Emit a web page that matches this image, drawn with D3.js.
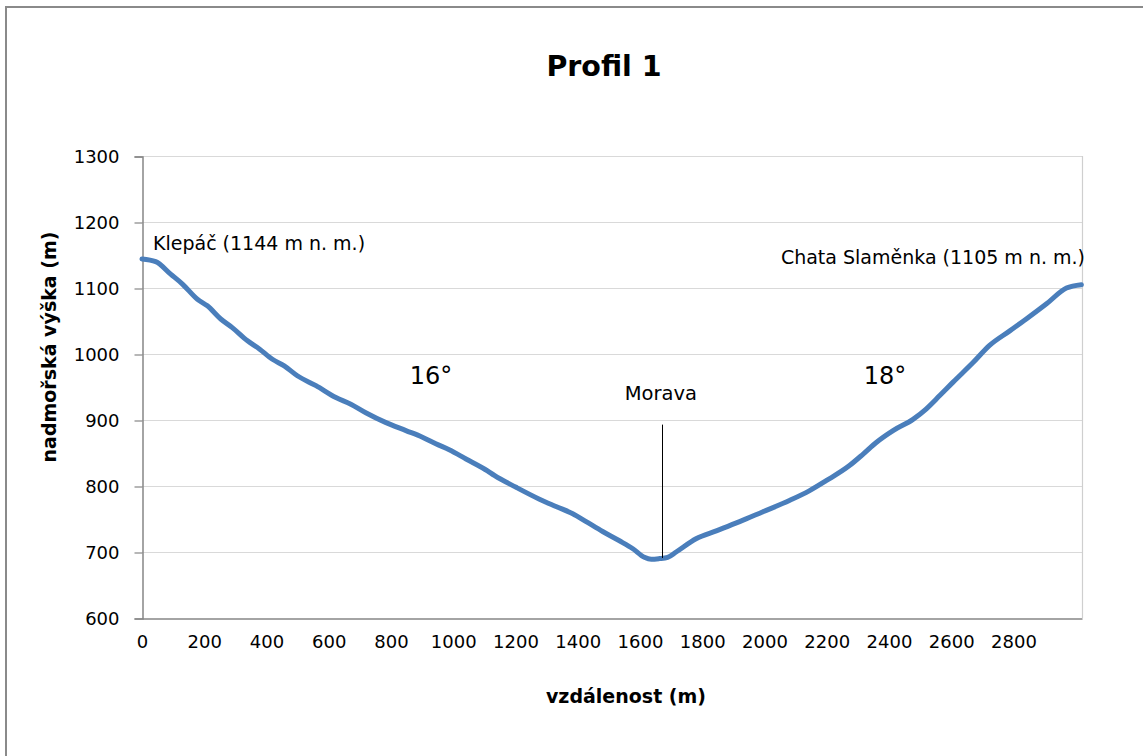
<!DOCTYPE html>
<html>
<head>
<meta charset="utf-8">
<script src="https://cdn.jsdelivr.net/npm/d3@7"></script>
<style>
  html, body { margin: 0; padding: 0; background: #fff; }
  svg { display: block; font-family: "DejaVu Sans", sans-serif; }
</style>
</head>
<body>
<div id="chart"></div>
<script>
// profile data (distance m, elevation m n. m.)
var distances = [0, 44, 92, 130, 178, 210, 253, 290, 339, 376, 419, 457, 499, 559, 623, 671, 719, 784, 848, 901,
  944, 987, 1041, 1110, 1132, 1202, 1277, 1330, 1384, 1427, 1480, 1534, 1577, 1614, 1636, 1662, 1689, 1716, 1780, 1845,
  1920, 1995, 2080, 2145, 2198, 2273, 2316, 2359, 2413, 2477, 2520, 2563, 2605, 2670, 2723, 2788, 2841, 2906, 2970, 3018];
var elevations = [1144, 1140, 1121, 1106, 1083, 1073, 1053, 1040, 1020, 1008, 992, 982, 967, 952, 934, 924, 911, 896, 884, 874,
  864, 855, 841, 823, 816, 798, 780, 769, 758, 746, 731, 717, 705, 692, 689, 690, 692, 700, 720, 732,
  746, 761, 778, 793, 808, 831, 848, 866, 884, 901, 917, 937, 957, 987, 1013, 1035, 1053, 1076, 1100, 1105];
var xTicks = [0, 200, 400, 600, 800, 1000, 1200, 1400, 1600, 1800, 2000, 2200, 2400, 2600, 2800];
var yTicks = [600, 700, 800, 900, 1000, 1100, 1200, 1300];
var moravaDist = 1670, moravaTop = 893;

var width = 1143, height = 756;
var plotLeft = 142, plotRight = 1082, plotTop = 156, plotBottom = 618;

var svg = d3.select("#chart").append("svg")
    .attr("width", width)
    .attr("height", height);

// outer chart border
svg.append("rect")
    .attr("x", 6).attr("y", 7)
    .attr("width", 1200).attr("height", 800)
    .attr("fill", "none")
    .attr("stroke", "#8a8a8a")
    .attr("stroke-width", 2);

var x = d3.scaleLinear().domain([0, 3020]).range([plotLeft, plotRight]);
var y = d3.scaleLinear().domain([600, 1300]).range([plotBottom, plotTop]);

// gridlines
svg.append("g")
    .selectAll("line")
    .data(yTicks.filter(function(d) { return d > 600; }))
    .enter().append("line")
    .attr("x1", plotLeft).attr("x2", plotRight)
    .attr("y1", function(d) { return y(d) + 0.5; })
    .attr("y2", function(d) { return y(d) + 0.5; })
    .attr("stroke", "#d9d9d9")
    .attr("stroke-width", 1.2);

svg.append("line")
    .attr("x1", plotRight + 0.5).attr("x2", plotRight + 0.5)
    .attr("y1", plotTop).attr("y2", plotBottom)
    .attr("stroke", "#cfcfcf")
    .attr("stroke-width", 1.2);

// y axis
var yAxis = svg.append("g")
    .attr("transform", "translate(" + (plotLeft + 0.5) + ",0.5)")
    .call(d3.axisLeft(y).tickValues(yTicks).tickSize(8).tickPadding(15).tickFormat(d3.format("d")));
yAxis.select(".domain").attr("stroke", "#868686").attr("stroke-width", 1.5);
yAxis.selectAll(".tick line").attr("stroke", "#868686").attr("stroke-width", 1.2);
yAxis.selectAll("text").attr("font-size", 18).attr("fill", "#000").attr("font-family", "DejaVu Sans, sans-serif");

// x axis
var xAxis = svg.append("g")
    .attr("transform", "translate(0," + (plotBottom + 0.5) + ")")
    .call(d3.axisBottom(x).tickValues(xTicks).tickSize(0).tickPadding(17).tickFormat(d3.format("d")));
xAxis.select(".domain").attr("stroke", "#868686").attr("stroke-width", 1.5);
xAxis.selectAll("text").attr("font-size", 18).attr("fill", "#000").attr("font-family", "DejaVu Sans, sans-serif");

// profile line
var line = d3.line()
    .x(function(d, i) { return x(distances[i]); })
    .y(function(d) { return y(d); })
    .curve(d3.curveMonotoneX);

svg.append("path")
    .datum(elevations)
    .attr("d", line)
    .attr("fill", "none")
    .attr("stroke", "#4a7ebb")
    .attr("stroke-width", 5)
    .attr("stroke-linejoin", "round")
    .attr("stroke-linecap", "round");

// Morava marker
svg.append("line")
    .attr("x1", Math.round(x(moravaDist)) + 0.5).attr("x2", Math.round(x(moravaDist)) + 0.5)
    .attr("y1", y(moravaTop)).attr("y2", y(691))
    .attr("stroke", "#000")
    .attr("stroke-width", 1);

svg.append("text")
    .attr("x", x(moravaDist) - 1)
    .attr("y", 400)
    .attr("text-anchor", "middle")
    .attr("font-size", 19.5)
    .text("Morava");

// labels
svg.append("text")
    .attr("x", 153).attr("y", 250)
    .attr("font-size", 19)
    .text("Klepáč (1144 m n. m.)");

svg.append("text")
    .attr("x", 1085).attr("y", 264)
    .attr("text-anchor", "end")
    .attr("font-size", 19)
    .text("Chata Slaměnka (1105 m n. m.)");

svg.append("text")
    .attr("x", 431).attr("y", 384)
    .attr("text-anchor", "middle")
    .attr("font-size", 24)
    .text("16°");

svg.append("text")
    .attr("x", 885).attr("y", 384)
    .attr("text-anchor", "middle")
    .attr("font-size", 24)
    .text("18°");

// titles
svg.append("text")
    .attr("x", 604).attr("y", 76)
    .attr("text-anchor", "middle")
    .attr("font-size", 28.5)
    .attr("font-weight", "bold")
    .text("Profil 1");

svg.append("text")
    .attr("x", 626).attr("y", 703)
    .attr("text-anchor", "middle")
    .attr("font-size", 19)
    .attr("font-weight", "bold")
    .text("vzdálenost (m)");

svg.append("text")
    .attr("transform", "translate(56,347) rotate(-90)")
    .attr("text-anchor", "middle")
    .attr("font-size", 19)
    .attr("font-weight", "bold")
    .text("nadmořská výška (m)");
</script>
</body>
</html>
